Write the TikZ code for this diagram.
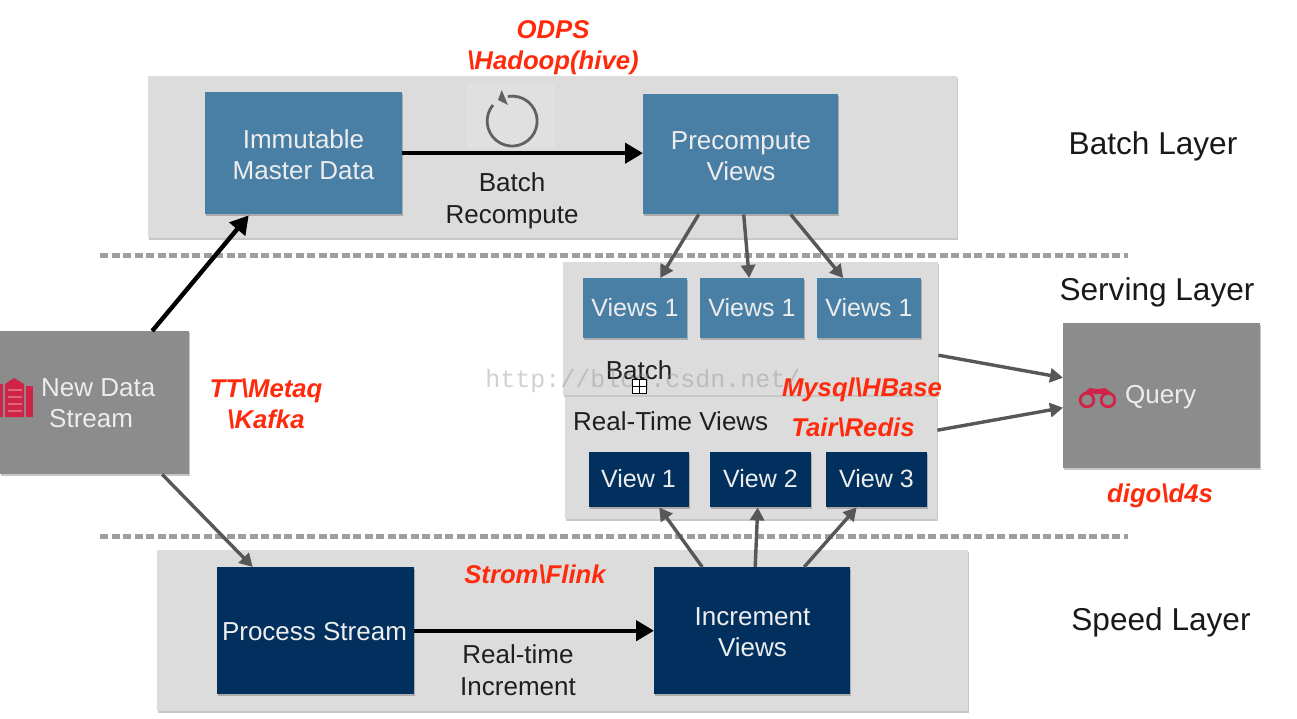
\documentclass[tikz,border=0pt]{standalone}
\usepackage{fontspec}
\setmainfont{Liberation Sans}
\newfontfamily\wmfont{Liberation Mono}
\usetikzlibrary{arrows.meta,shadows,calc}
\definecolor{band}{HTML}{DCDCDC}
\definecolor{steel}{HTML}{4A7FA5}
\definecolor{navy}{HTML}{02305E}
\definecolor{greybox}{HTML}{8C8C8C}
\definecolor{redtxt}{HTML}{FF2A0C}
\definecolor{icon}{HTML}{CF2347}
\tikzset{
  x=1pt,y=-1pt,
  softshadow/.style={drop shadow={shadow xshift=1pt,shadow yshift=-2pt,fill=black,opacity=.22}},
  bandbox/.style={fill=band,draw=none,inner sep=0pt,softshadow},
  block/.style={draw=none,inner sep=0pt,softshadow},
  steelbox/.style={block,fill=steel},
  navybox/.style={block,fill=navy},
  greyblock/.style={block,fill=greybox},
  boxtext/.style={inner sep=0pt,text=white!93!black,align=center,font=\fontsize{26}{31}\selectfont},
  smalltext/.style={inner sep=0pt,text=white!93!black,align=center,font=\fontsize{25}{31}\selectfont},
  label/.style={inner sep=0pt,align=center,text=black!88,font=\fontsize{26}{32}\selectfont},
  layer/.style={inner sep=0pt,text=black!90,font=\fontsize{31.6}{38}\selectfont},
  redlabel/.style={inner sep=0pt,align=center,text=redtxt,font=\fontsize{25.7}{31}\selectfont\bfseries\itshape},
  blackarrow/.style={draw=black,line width=4.4pt,-{Triangle[length=18pt,width=20pt]}},
  greyarrow/.style={draw=black!66,line width=3.4pt,-{Triangle[length=13pt,width=14pt]}},
  sepline/.style={draw=black!38,line width=5pt,dash pattern=on 8pt off 3.5pt},
}
\begin{document}
\begin{tikzpicture}
\useasboundingbox (0,0) rectangle (1297,719);
\fill[white] (0,0) rectangle (1297,719);
% bands
\node[bandbox,minimum width=809pt,minimum height=162pt,anchor=north west] (batchband) at (148,76) {};
\node[bandbox,minimum width=375pt,minimum height=133pt,anchor=north west] (servband) at (563,262) {};
\node[bandbox,minimum width=372pt,minimum height=122pt,anchor=north west] (rtband) at (565,397) {};
\node[bandbox,minimum width=811pt,minimum height=161pt,anchor=north west] (speedband) at (157,550) {};
% separators
\coordinate (sepaL) at (100,255); \coordinate (sepaR) at (1128,255);
\coordinate (sepbL) at (100,536); \coordinate (sepbR) at (1128,536);
\draw[sepline] (sepaL) -- (sepaR);
\draw[sepline] (sepbL) -- (sepbR);
% refresh icon
\fill[white,opacity=.12] (467,83) rectangle (555,148);
\draw[black!62,line width=2.8pt] (493,105) arc[start angle=140,end angle=460,radius=25pt];
\fill[black!62] (501.7,90) -- (498,100) -- (508,105) -- cycle;
% boxes
\node[steelbox,minimum width=197pt,minimum height=122pt,anchor=north west] (imm) at (205,92) {};
\node[steelbox,minimum width=195pt,minimum height=120pt,anchor=north west] (pre) at (643,94) {};
\node[steelbox,minimum width=104pt,minimum height=60pt,anchor=north west] (va) at (583,278) {};
\node[steelbox,minimum width=104pt,minimum height=60pt,anchor=north west] (vb) at (700,278) {};
\node[steelbox,minimum width=104pt,minimum height=60pt,anchor=north west] (vc) at (817,278) {};
\node[navybox,minimum width=100pt,minimum height=55pt,anchor=north west] (ra) at (589,452) {};
\node[navybox,minimum width=101pt,minimum height=55pt,anchor=north west] (rb) at (710,452) {};
\node[navybox,minimum width=101pt,minimum height=55pt,anchor=north west] (rc) at (826,452) {};
\node[navybox,minimum width=197pt,minimum height=127pt,anchor=north west] (proc) at (217,567) {};
\node[navybox,minimum width=196pt,minimum height=127pt,anchor=north west] (inc) at (654,567) {};
\node[greyblock,minimum width=189pt,minimum height=143pt,anchor=north west] (nds) at (0,331) {};
\node[greyblock,minimum width=197pt,minimum height=145pt,anchor=north west] (qry) at (1063,323) {};
% box texts
\node[boxtext] (immt) at (303.5,155) {Immutable\\Master Data};
\node[boxtext] (pret) at (741,156) {Precompute\\Views};
\node[smalltext] (vat) at (635,308) {Views 1};
\node[smalltext] (vbt) at (752,308) {Views 1};
\node[smalltext] (vct) at (869,308) {Views 1};
\node[smalltext] (rat) at (638.5,479) {View 1};
\node[smalltext] (rbt) at (760.5,479) {View 2};
\node[smalltext] (rct) at (876.5,479) {View 3};
\node[boxtext] (proct) at (314.5,632) {Process Stream};
\node[boxtext] (inct) at (752.5,632) {Increment\\Views};
\node[boxtext,anchor=west] (ndsa) at (41,388) {New Data};
\node[boxtext,anchor=west] (ndsb) at (49,419) {Stream};
\node[boxtext,anchor=west] (qrytxt) at (1125,397) {Query};
% building icon
\fill[icon] (0,384) rectangle (3,417);
\fill[icon] (5,384) -- (14,378) -- (24,384) -- (24,417) -- (5,417) -- cycle;
\fill[icon] (26,386) rectangle (33,417);
\foreach \yy in {389,396,403,410}{\fill[white,opacity=.3] (8,\yy) rectangle (22,\yy+2);}
% binoculars icon
\draw[icon,line width=2.8pt] (1087,400) circle[radius=6.8pt];
\draw[icon,line width=2.8pt] (1108,400) circle[radius=6.8pt];
\fill[icon] (1081,395) -- (1090,388) -- (1096,389) -- (1099,389) -- (1105,388) -- (1114,395) -- (1102,394) -- (1093,394) -- cycle;
% connectors
\draw[blackarrow] (imm.east) -- (pre.west |- imm.east);
\draw[blackarrow] (proc.east) -- (inc.west |- proc.east);
\draw[blackarrow] ([xshift=57.5pt]nds.north) -- ([xshift=-55pt,yshift=-1pt]imm.south);
\draw[greyarrow] ([xshift=67.5pt]nds.south) -- ([xshift=-63pt]proc.north);
\draw[greyarrow] ([xshift=-42pt]pre.south) -- ([xshift=25pt]va.north);
\draw[greyarrow] ([xshift=3pt]pre.south) -- ([xshift=-3pt]vb.north);
\draw[greyarrow] ([xshift=50pt]pre.south) -- ([xshift=-26pt]vc.north);
\draw[greyarrow] ([xshift=-50pt]inc.north) -- ([xshift=20pt]ra.south);
\draw[greyarrow] ([xshift=3pt]inc.north) -- ([xshift=-3pt]rb.south);
\draw[greyarrow] ([xshift=52pt]inc.north) -- ([xshift=-20pt]rc.south);
\draw[greyarrow] ([yshift=-26.5pt]servband.east) -- ([yshift=18pt]qry.west);
\draw[greyarrow] ([yshift=28pt]rtband.east) -- ([yshift=-12pt]qry.west);
% labels
\node[label] (brc) at (512,201) {Batch\\Recompute};
\node[label] (rti) at (518,670) {Real-time\\Increment};
\node[label] (batchtxt) at (639,370) {Batch};
\node[label,anchor=west] (rtv) at (573,421) {Real-Time Views};
\node[layer] (l1) at (1153,146.5) {Batch Layer};
\node[layer] (l2) at (1157,292.5) {Serving Layer};
\node[layer] (l3) at (1161,622.5) {Speed Layer};
\node[redlabel] (r1) at (553,47.5) {ODPS\\\textbackslash Hadoop(hive)};
\node[redlabel] (r2) at (266,404) {TT\textbackslash Metaq\\\textbackslash Kafka};
\node[redlabel] (r3) at (862,390) {Mysql\textbackslash HBase};
\node[redlabel] (r4) at (853,427) {Tair\textbackslash Redis};
\node[redlabel] (r5) at (1160,496) {digo\textbackslash d4s};
\node[redlabel] (r6) at (535,574) {Strom\textbackslash Flink};
% watermark
\node[inner sep=0pt,text=black!45!white,opacity=.4,font=\wmfont\fontsize{25}{30}\selectfont] (wm) at (643,381) {http://blog.csdn.net/};
% cursor
\node[draw=black,fill=white,line width=1pt,minimum size=14pt,inner sep=0pt] (cur) at (639,386) {};
\draw[black,line width=.8pt] (cur.west) -- (cur.east) (cur.north) -- (cur.south);
\end{tikzpicture}
\end{document}
